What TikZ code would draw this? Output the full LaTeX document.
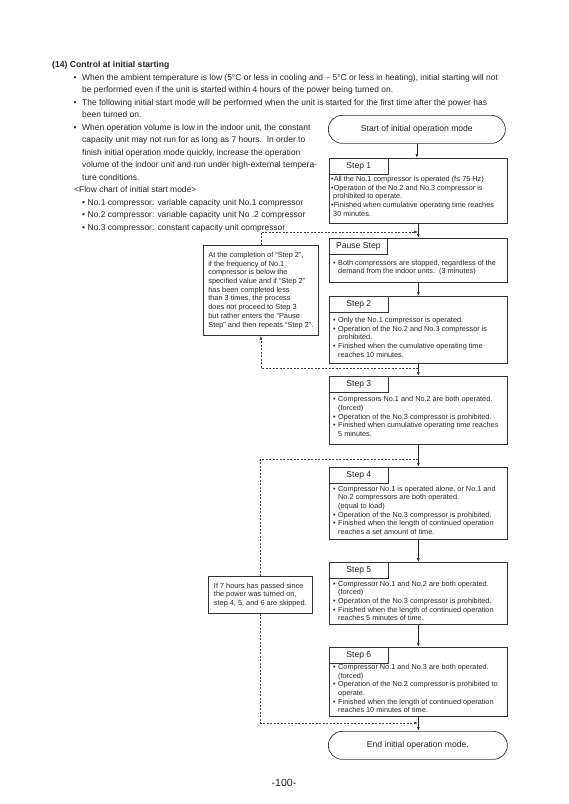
\documentclass[tikz,border=0pt]{standalone}
\usepackage{fontspec}
\setmainfont{Liberation Sans}
\usetikzlibrary{arrows.meta}
\newcommand\myb{\makebox[5pt][l]{•}}
\newcommand\myc{\hspace*{5pt}}
\newcommand\topb{\makebox[8.5pt][l]{•}}
\newcommand\subb{\makebox[5.5pt][l]{•}}
\begin{document}
\begin{tikzpicture}[x=1pt,y=-1pt,
  toptext/.style={anchor=base west,inner sep=0pt,text=black!85,font=\fontsize{8.45}{12.5}\selectfont},
  stepbox/.style={draw=black!80,line width=0.7pt,minimum width=178pt,anchor=north west,inner sep=0pt},
  steptab/.style={draw=black!80,line width=0.7pt,minimum width=59pt,minimum height=15.5pt,anchor=north west,inner sep=0pt,text=black!85,font=\fontsize{8.6}{10}\selectfont},
  stepbody/.style={anchor=north west,inner sep=0pt,align=left,text=black!85,font=\fontsize{7.3}{8.7}\selectfont},
  notebox/.style={draw=black!80,line width=0.7pt,anchor=north west,align=left,inner xsep=5pt,inner ysep=0pt,text=black!85,font=\fontsize{7.35}{8.7}\selectfont},
  term/.style={draw=black!80,line width=0.7pt,rounded corners=14pt,minimum height=28pt,anchor=north west,inner sep=0pt,text=black!85,font=\fontsize{8.6}{10}\selectfont},
  flow/.style={draw=black!85,line width=0.7pt,-{Latex[length=4pt,width=2.8pt]}},
  dashflow/.style={draw=black!75,line width=0.6pt,dash pattern=on 2pt off 1.5pt},
  dasharrow/.style={dashflow,-{Latex[length=4pt,width=2.8pt]}}
]
\fill[white] (0,0) rectangle (569,804);
\useasboundingbox (0,0) rectangle (569,804);

% ---- top text ----
\node[toptext,font=\bfseries\fontsize{8.6}{12.5}\selectfont] (title) at (52,67) {(14) Control at initial starting};
\node[toptext] (t1) at (73.5,80) {\topb When the ambient temperature is low (5°C or less in cooling and – 5°C or less in heating), initial starting will not};
\node[toptext] (t2) at (82,92.5) {be performed even if the unit is started within 4 hours of the power being turned on.};
\node[toptext] (t3) at (73.5,105) {\topb The following initial start mode will be performed when the unit is started for the first time after the power has};
\node[toptext] (t4) at (82,117.5) {been turned on.};
\node[toptext] (t5) at (73.5,130) {\topb When operation volume is low in the indoor unit, the constant};
\node[toptext] (t6) at (82,142.5) {capacity unit may not run for as long as 7 hours.\ \ In order to};
\node[toptext] (t7) at (82,155) {finish initial operation mode quickly, increase the operation};
\node[toptext] (t8) at (82,167.5) {volume of the indoor unit and run under high-external tempera-};
\node[toptext] (t9) at (82,180) {ture conditions.};
\node[toptext] (t10) at (74,192.5) {<Flow chart of initial start mode>};
\node[toptext] (t11) at (82,205) {\subb No.1 compressor: variable capacity unit No.1 compressor};
\node[toptext] (t12) at (82,217.5) {\subb No.2 compressor: variable capacity unit No .2 compressor};
\node[toptext] (t13) at (82,230) {\subb No.3 compressor: constant capacity unit compressor};

% ---- terminals ----
\node[term,minimum width=177pt] (start) at (328,115) {Start of initial operation mode};
\node[term,minimum width=179pt] (end) at (328,731) {End initial operation mode.};

% ---- steps ----
\node[stepbox,minimum height=65pt] (s1) at (329,158) {};
\node[steptab] (s1t) at (s1.north west) {Step 1};
\node[stepbody] (s1b) at (331,176) {•All the No.1 compressor is operated (f≤ 75 Hz)\\
•Operation of the No.2 and No.3 compressor is\\
\ prohibited to operate.\\
•Finished when cumulative operating time reaches\\
\ 30 minutes.};

\node[stepbox,minimum height=44pt] (ps) at (329,238) {};
\node[steptab,minimum width=58pt] (pst) at (ps.north west) {Pause Step};
\node[stepbody] (psb) at (333,259.7) {\myb Both compressors are stopped, regardless of the\\
\myc demand from the indoor units.\ \ (3 minutes)};

\node[stepbox,minimum height=67pt] (s2) at (329,296) {};
\node[steptab] (s2t) at (s2.north west) {Step 2};
\node[stepbody] (s2b) at (333,317) {\myb Only the No.1 compressor is operated.\\
\myb Operation of the No.2 and No.3 compressor is\\
\myc prohibited.\\
\myb Finished when the cumulative operating time\\
\myc reaches 10 minutes.};

\node[stepbox,minimum height=68pt] (s3) at (329,376) {};
\node[steptab] (s3t) at (s3.north west) {Step 3};
\node[stepbody] (s3b) at (333,396.3) {\myb Compressors No.1 and No.2 are both operated.\\
\myc (forced)\\
\myb Operation of the No.3 compressor is prohibited.\\
\myb Finished when cumulative operating time reaches\\
\myc 5 minutes.};

\node[stepbox,minimum height=72pt] (s4) at (329,467) {};
\node[steptab] (s4t) at (s4.north west) {Step 4};
\node[stepbody] (s4b) at (333,485.7) {\myb Compressor No.1 is operated alone, or No.1 and\\
\myc No.2 compressors are both operated.\\
\myc (equal to load)\\
\myb Operation of the No.3 compressor is prohibited.\\
\myb Finished when the length of continued operation\\
\myc reaches a set amount of time.};

\node[stepbox,minimum height=62pt] (s5) at (329,562) {};
\node[steptab] (s5t) at (s5.north west) {Step 5};
\node[stepbody] (s5b) at (333,580.7) {\myb Compressor No.1 and No.2 are both operated.\\
\myc (forced)\\
\myb Operation of the No.3 compressor is prohibited.\\
\myb Finished when the length of continued operation\\
\myc reaches 5 minutes of time.};

\node[stepbox,minimum height=69pt] (s6) at (329,647) {};
\node[steptab] (s6t) at (s6.north west) {Step 6};
\node[stepbody] (s6b) at (333,664) {\myb Compressor No.1 and No.3 are both operated.\\
\myc (forced)\\
\myb Operation of the No.2 compressor is prohibited to\\
\myc operate.\\
\myb Finished when the length of continued operation\\
\myc reaches 10 minutes of time.};

% ---- notes ----
\node[notebox,minimum width=114pt,minimum height=90pt] (n1) at (203,245) {At the completion of “Step 2”,\\
if the frequency of No.1\\
compressor is below the\\
specified value and if “Step 2”\\
has been completed less\\
than 3 times, the process\\
does not proceed to Step 3\\
but rather enters the “Pause\\
Step” and then repeats “Step 2”.};
\node[notebox,minimum width=104pt,minimum height=37pt] (n2) at (208,576) {If 7 hours has passed since\\
the power was turned on,\\
step 4, 5, and 6 are skipped.};

% ---- page number ----
\node[inner sep=0pt,text=black!85,font=\fontsize{10.5}{12}\selectfont] (pg) at (284,783) {-100-};

% ---- junctions ----
\coordinate (j1) at (418,232);
\coordinate (j2) at (418,368);
\coordinate (j3) at (418,459);
\coordinate (j4) at (418,723);

% ---- main flow ----
\draw[flow] (start.south) -- (start.south |- s1.north);
\draw[flow] (s1.south) -- (ps.north);
\draw[flow] (ps.south) -- (s2.north);
\draw[flow] (s2.south) -- (s3.north);
\draw[flow] (s3.south) -- (s4.north);
\draw[flow] (s4.south) -- (s5.north);
\draw[flow] (s5.south) -- (s6.north);
\draw[flow] (s6.south) -- (s6.south |- end.north);

% ---- dashed loops ----
\draw[dasharrow] (j2) -| (n1.south);
\draw[dasharrow] (n1.north) |- (j1);
\draw[dashflow] (j3) -| (n2.north);
\draw[dasharrow] (n2.south) |- (j4);
\end{tikzpicture}
\end{document}
